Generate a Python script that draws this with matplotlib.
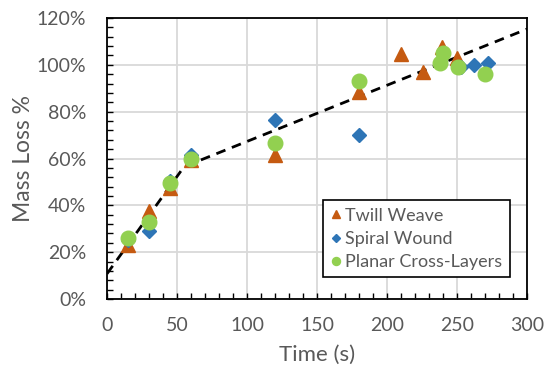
import matplotlib.pyplot as plt
from matplotlib.ticker import MultipleLocator, PercentFormatter

plt.rcParams['font.family'] = ['Lato', 'DejaVu Sans']

# data (time in s, mass loss in %)
twill_t = [15, 30, 45, 60, 120, 180, 210, 226, 239, 250]
twill_y = [23, 37.5, 47.5, 59.5, 61.5, 88.5, 104.5, 97, 107.5, 103]

spiral_t = [15, 30, 45, 60, 120, 180, 253, 262, 272]
spiral_y = [25, 29, 50.5, 61.5, 76.5, 70, 99, 99.8, 100.8]

planar_t = [15, 30, 45, 60, 120, 180, 238, 240, 251, 270]
planar_y = [26, 33, 49.5, 59.7, 66.7, 93, 100.8, 105, 99.2, 96.2]

trend_t = [0, 55, 300]
trend_y = [10.8, 56.5, 115.3]

grey = '#595959'

fig = plt.figure(figsize=(5.49, 3.68), dpi=100)
ax = fig.add_axes([0.195, 0.1875, 0.765, 0.7635])

ax.plot(trend_t, trend_y, '--', color='black', lw=2, dashes=(3.5, 2.5), zorder=2)
ax.plot(twill_t, twill_y, '^', color='#C55A11', ms=10, ls='none', label='Twill Weave', zorder=3)
ax.plot(spiral_t, spiral_y, 'D', color='#2E75B6', ms=7.5, ls='none', label='Spiral Wound', zorder=4)
ax.plot(planar_t, planar_y, 'o', color='#92D050', ms=10.5, ls='none', label='Planar Cross-Layers', zorder=5)

ax.set_xlim(0, 300)
ax.set_ylim(0, 120)
ax.xaxis.set_major_locator(MultipleLocator(50))
ax.xaxis.set_minor_locator(MultipleLocator(10))
ax.yaxis.set_major_locator(MultipleLocator(20))
ax.yaxis.set_minor_locator(MultipleLocator(4))
ax.yaxis.set_major_formatter(PercentFormatter(decimals=0))

ax.grid(True, which='major', color='#D9D9D9', lw=1.3)
ax.set_axisbelow(True)
for s in ax.spines.values():
    s.set_color('black')
    s.set_linewidth(1.3)

ax.tick_params(which='both', direction='in', length=4, width=1, colors='black',
               labelcolor=grey, labelsize=14)
ax.tick_params(axis='y', pad=15)
ax.tick_params(axis='x', pad=13)

ax.set_xlabel('Time (s)', fontsize=16, color=grey, labelpad=8)
ax.set_ylabel('Mass Loss %', fontsize=16.5, color=grey, labelpad=2)

leg = ax.legend(loc='lower left', bbox_to_anchor=(0.514, 0.077), borderaxespad=0,
                fontsize=13, markerscale=0.55, handlelength=0.6, handletextpad=0.25,
                labelspacing=0.4, borderpad=0.4, fancybox=False, edgecolor='black',
                framealpha=1)
leg.get_frame().set_linewidth(1.2)
for t in leg.get_texts():
    t.set_color(grey)

fig.savefig('out.png', dpi=100)
